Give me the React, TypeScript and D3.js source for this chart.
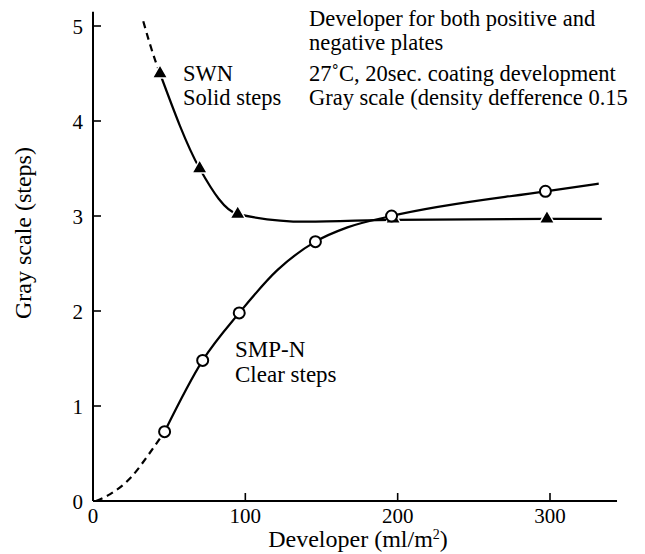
import React from "react";
import * as d3 from "d3";

const xTicks = [0, 100, 200, 300];
const yTicks = [0, 1, 2, 3, 4, 5];

const swnMarkX = [44, 70, 95, 197, 298];
const swnMarkY = [4.5, 3.5, 3.02, 2.97, 2.97];
const swnCurveX = [44, 70, 95, 140, 197, 298, 334];
const swnCurveY = [4.5, 3.5, 3.02, 2.94, 2.96, 2.97, 2.97];
const swnDashX = [33, 37, 41, 44];
const swnDashY = [5.05, 4.83, 4.63, 4.5];

const smpMarkX = [47, 72, 96, 146, 196, 297];
const smpMarkY = [0.73, 1.48, 1.98, 2.73, 3.0, 3.26];
const smpCurveX = [47, 72, 96, 121, 146, 167, 196, 297, 332];
const smpCurveY = [0.73, 1.48, 1.98, 2.43, 2.73, 2.88, 3.0, 3.26, 3.34];
const smpDashX = [2, 11, 25, 37, 47];
const smpDashY = [0, 0.07, 0.25, 0.5, 0.73];

const noteLines = [
  "Developer for both positive and",
  "negative plates",
  "27\u02daC, 20sec. coating development",
  "Gray scale (density defference 0.15",
];
const swnLabel = ["SWN", "Solid steps"];
const smpLabel = ["SMP-N", "Clear steps"];
const xTitle = "Developer (ml/m";
const yTitle = "Gray scale (steps)";

const W = 645;
const H = 554;
const FONT = "'Liberation Serif', 'DejaVu Serif', serif";

export default function App() {
  const x = d3.scaleLinear().domain([0, 300]).range([93, 550]);
  const y = d3.scaleLinear().domain([0, 5]).range([501, 26]);
  const xEnd = 344;
  const yEnd = 5.15;

  const zip = (xs: number[], ys: number[]) => xs.map((v, i) => [v, ys[i]] as [number, number]);
  const line = d3
    .line<[number, number]>()
    .x((d) => x(d[0]))
    .y((d) => y(d[1]))
    .curve(d3.curveMonotoneX);

  const tri = d3.symbol().type(d3.symbolTriangle).size(100)()!;

  return (
    <svg
      width={W}
      height={H}
      style={{ position: "absolute", left: 0, top: 0, background: "#fff" }}
      fontFamily={FONT}
    >
      <rect x={0} y={0} width={W} height={H} fill="#fff" />
      {/* axes */}
      <line x1={x(0)} x2={x(xEnd)} y1={y(0)} y2={y(0)} stroke="#000" strokeWidth={2} />
      <line x1={x(0)} x2={x(0)} y1={y(0)} y2={y(yEnd)} stroke="#000" strokeWidth={2} />
      {yTicks.map((t) => (
        <g key={"y" + t}>
          <line x1={x(0)} x2={x(0) + 8} y1={y(t)} y2={y(t)} stroke="#000" strokeWidth={1.6} />
          <text x={x(0) - 10} y={y(t)} dy="0.36em" textAnchor="end" fontSize={21}>
            {t}
          </text>
        </g>
      ))}
      {xTicks.map((t) => (
        <g key={"x" + t}>
          <line x1={x(t)} x2={x(t)} y1={y(0)} y2={y(0) - 8} stroke="#000" strokeWidth={1.6} />
          <text x={x(t)} y={y(0) + 22} textAnchor="middle" fontSize={21}>
            {t}
          </text>
        </g>
      ))}
      <text x={358} y={547} textAnchor="middle" fontSize={24}>
        {xTitle}
        <tspan dy={-8} fontSize={14}>2</tspan>
        <tspan dy={8}>)</tspan>
      </text>
      <text
        transform={`translate(31, ${233}) rotate(-90)`}
        textAnchor="middle"
        fontSize={24}
      >
        {yTitle}
      </text>

      {/* curves */}
      <path d={line(zip(swnDashX, swnDashY))!} fill="none" stroke="#000" strokeWidth={2.2} strokeDasharray="7 5" />
      <path d={line(zip(swnCurveX, swnCurveY))!} fill="none" stroke="#000" strokeWidth={2.2} />
      <path d={line(zip(smpDashX, smpDashY))!} fill="none" stroke="#000" strokeWidth={2.2} strokeDasharray="7 5" />
      <path d={line(zip(smpCurveX, smpCurveY))!} fill="none" stroke="#000" strokeWidth={2.2} />

      {/* markers */}
      {zip(swnMarkX, swnMarkY).map((d, i) => (
        <path
          key={"t" + i}
          d={tri}
          transform={`translate(${x(d[0])},${y(d[1])})`}
          fill="#000"
          stroke="#fff"
          strokeWidth={1.5}
        />
      ))}
      {zip(smpMarkX, smpMarkY).map((d, i) => (
        <circle key={"c" + i} cx={x(d[0])} cy={y(d[1])} r={5.5} fill="#fff" stroke="#000" strokeWidth={2} />
      ))}

      {/* labels */}
      {swnLabel.map((s, i) => (
        <text key={"sl" + i} x={183} y={81 + i * 24} fontSize={22.5}>
          {s}
        </text>
      ))}
      {smpLabel.map((s, i) => (
        <text key={"ml" + i} x={235} y={357 + i * 25} fontSize={23}>
          {s}
        </text>
      ))}
      {noteLines.map((s, i) => (
        <text key={"n" + i} x={309} y={[26, 50, 81, 105][i]} fontSize={22.5}>
          {s}
        </text>
      ))}
    </svg>
  );
}
